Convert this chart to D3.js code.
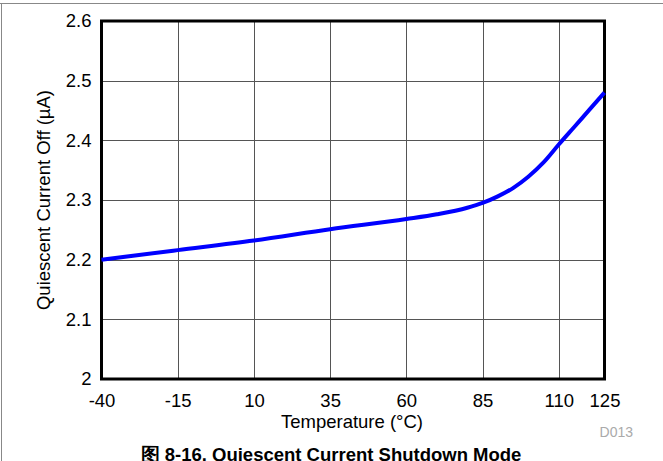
<!DOCTYPE html>
<html><head><meta charset="utf-8">
<script src="https://cdn.jsdelivr.net/npm/d3@7"></script>
<style>body{margin:0;background:#fff}svg{display:block}text{font-family:"Liberation Sans",Arial,sans-serif}</style>
</head><body><svg id="c" width="663" height="461"></svg>
<script>
const temps = [-40, -15, 10, 35, 60, 70, 80, 85, 90, 95, 100, 105, 110, 115, 120, 125];
const current = [2.200, 2.216, 2.232, 2.251, 2.268, 2.276, 2.287, 2.295, 2.306, 2.320, 2.339, 2.363, 2.393, 2.422, 2.451, 2.480];
const xTicks = [-40, -15, 10, 35, 60, 85, 110, 125];
const yTicks = [2, 2.1, 2.2, 2.3, 2.4, 2.5, 2.6];
const xTitle = "Temperature (°C)";
const yTitle = "Quiescent Current Off (µA)";
const caption = "图 8-16. Quiescent Current Shutdown Mode";
const code = "D013";

const svg = d3.select("#c");
const L = 101.5, R = 604.5, T = 21, B = 379;
const x = d3.scaleLinear().domain([-40, 125]).range([L, R]);
const y = d3.scaleLinear().domain([2, 2.6]).range([B, T]);
const FS = 18.5;

// outer frame lines
svg.append("line").attr("x1", 0).attr("x2", 663).attr("y1", 3.5).attr("y2", 3.5).attr("stroke", "#888").attr("stroke-width", 1);
svg.append("line").attr("x1", 1.5).attr("x2", 1.5).attr("y1", 3).attr("y2", 461).attr("stroke", "#888").attr("stroke-width", 1);

// grid
svg.append("g").selectAll("line").data(xTicks.slice(1, -1)).join("line")
  .attr("x1", d => Math.round(x(d)) + 0.5).attr("x2", d => Math.round(x(d)) + 0.5)
  .attr("y1", T).attr("y2", B).attr("stroke", "#555").attr("stroke-width", 1);
svg.append("g").selectAll("line").data(yTicks.slice(1, -1)).join("line")
  .attr("y1", d => Math.round(y(d)) + 0.5).attr("y2", d => Math.round(y(d)) + 0.5)
  .attr("x1", L).attr("x2", R).attr("stroke", "#555").attr("stroke-width", 1);

// axes labels via d3 axes
const xa = svg.append("g").attr("transform", `translate(0,${B})`)
  .call(d3.axisBottom(x).tickValues(xTicks).tickSize(0).tickPadding(14.5).tickFormat(d => String(d)));
xa.select(".domain").remove();
xa.selectAll("text").attr("font-size", FS).attr("fill", "#000").attr("font-family", "Liberation Sans, Arial, sans-serif");
const ya = svg.append("g").attr("transform", `translate(${L},0)`)
  .call(d3.axisLeft(y).tickValues(yTicks).tickSize(0).tickPadding(10).tickFormat(d => d === 2 ? "2" : d3.format(".1f")(d)));
ya.select(".domain").remove();
ya.selectAll("text").attr("font-size", FS).attr("fill", "#000").attr("font-family", "Liberation Sans, Arial, sans-serif");

// frame
svg.append("rect").attr("x", L).attr("y", T).attr("width", R - L).attr("height", B - T)
  .attr("fill", "none").attr("stroke", "#000").attr("stroke-width", 3);

// line
const line = d3.line().x((d, i) => x(temps[i])).y(d => y(d)).curve(d3.curveMonotoneX);
svg.append("path").datum(current).attr("d", line).attr("fill", "none")
  .attr("stroke", "#0000ff").attr("stroke-width", 4);

// titles
svg.append("text").attr("x", 352).attr("y", 428).attr("text-anchor", "middle")
  .attr("font-size", FS).text(xTitle);
svg.append("text").attr("transform", `translate(50,${(T + B) / 2}) rotate(-90)`).attr("text-anchor", "middle")
  .attr("font-size", FS).text(yTitle);
svg.append("text").attr("x", 633).attr("y", 437).attr("text-anchor", "end")
  .attr("font-size", 14).attr("fill", "#aaa").text(code);
svg.append("text").attr("x", 331).attr("y", 461).attr("text-anchor", "middle")
  .attr("font-size", FS).attr("font-weight", "bold").text(caption);
</script></body></html>
